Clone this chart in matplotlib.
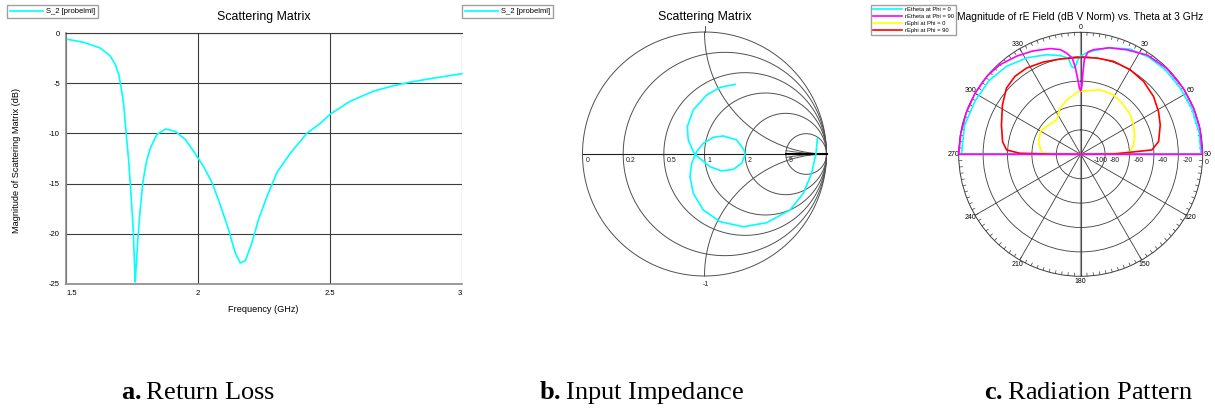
import numpy as np
import matplotlib
matplotlib.use("Agg")
import matplotlib.pyplot as plt

plt.rcParams['font.family'] = ['Liberation Sans', 'DejaVu Sans']
plt.rcParams['mathtext.fontset'] = 'custom'
plt.rcParams['mathtext.rm'] = 'Liberation Serif'
plt.rcParams['mathtext.bf'] = 'Liberation Serif:bold'

# ---- a. return loss (S11 in dB) ----
freq = [1.50, 1.567, 1.63, 1.668, 1.687, 1.70, 1.708, 1.718, 1.728, 1.737, 1.746,
        1.754, 1.759, 1.762, 1.766, 1.772, 1.781, 1.791, 1.804, 1.819, 1.844, 1.878,
        1.914, 1.952, 1.989, 2.021, 2.053, 2.084, 2.116, 2.141, 2.16, 2.179, 2.204,
        2.229, 2.261, 2.299, 2.349, 2.412, 2.463, 2.5, 2.576, 2.664, 2.74, 2.803,
        2.891, 3.0]
s11 = [-0.6, -0.93, -1.5, -2.3, -3.15, -4.15, -5.3, -7.0, -10.0, -12.6, -15.9,
       -19.3, -22.6, -24.8, -23.2, -20.6, -17.6, -14.9, -12.9, -11.5, -10.1, -9.56,
       -9.8, -10.6, -12.0, -13.3, -14.9, -17.1, -19.6, -21.9, -22.9, -22.7, -20.9,
       -18.6, -16.3, -13.9, -12.0, -10.0, -9.0, -8.1, -6.8, -5.8, -5.25, -4.9,
       -4.5, -4.05]
xticks_a = [1.5, 2, 2.5, 3]
xlabels_a = ['1.5', '2', '2.5', '3']
yticks_a = [0, -5, -10, -15, -20, -25]
ylabels_a = ['0', '-5', '-10', '-15', '-20', '-25']

# ---- b. input impedance (reflection coefficient) ----
gam_re = [0.250, 0.127, 0.018, -0.092, -0.141, -0.133, -0.092, -0.064, -0.023, 0.045,
          0.141, 0.236, 0.305, 0.332, 0.324, 0.264, 0.154, 0.072, -0.010, -0.059,
          -0.083, -0.105, -0.119, -0.092, -0.010, 0.127, 0.318, 0.510, 0.701, 0.810,
          0.878, 0.914, 0.925]
gam_im = [0.571, 0.546, 0.484, 0.361, 0.224, 0.115, 0.019, -0.016, -0.049, -0.104,
          -0.139, -0.126, -0.076, -0.008, 0.033, 0.115, 0.148, 0.137, 0.087, 0.027,
          -0.022, -0.076, -0.186, -0.322, -0.459, -0.555, -0.596, -0.563, -0.459, -0.322,
          -0.158, 0.005, 0.128]
r_circles = [0, 0.2, 0.5, 1, 2, 5]
r_labels = ['0', '0.2', '0.5', '1', '2', '5']

# ---- c. radiation pattern (dB) ----
eth0_theta = [-90, -90, -76, -63, -51, -40, -29, -19, -12, -7.3, -5.9, -3.8, -2, -0.4,
              3, 7, 15, 25, 35, 45, 56, 68, 80, 90, 90]
eth0_db = [-100, -2.2, -1.9, -3.0, -3.6, -5.7, -9.5, -13.7, -17.2, -20.5, -27.6, -29.2,
           -23, -19.7, -17, -14.5, -9.6, -4.8, -2.8, -2.0, -2.0, -1.5, -1.3, -1.4, -100]
eth90_theta = [-90, -90, -80, -70, -60, -50, -42, -33, -25, -16, -11, -8, -5, -3.5, -2,
               -1, 0, 1, 1.5, 2.2, 4, 7, 15, 24, 34, 45, 57, 68, 78, 90, 90]
eth90_db = [-100, 0, -0.3, -0.2, 0, 0, -1.1, -4.0, -6.6, -9.8, -12.6, -16.2, -20.8, -29,
            -40, -46, -48, -44, -34, -22, -16, -13.6, -9.6, -6.3, -2.0, -0.3, 0, 0, 0,
            -0.2, -100]
eph0_theta = [-90, -89.5, -88.5, -84, -72, -59.5, -47, -34, -25, -14.4, -2, 16.7, 28.8,
              40.9, 51.4, 60.9, 70.2, 80, 86.9, 88.6, 90]
eph0_db = [-100, -80, -69.3, -67, -63.7, -62, -64.6, -65.5, -59, -53.9, -48.5, -44.8,
           -44.3, -46.4, -48.1, -50.4, -53.1, -56, -59.4, -65, -100]
eph90_theta = [-90, -89.7, -89, -86.6, -80.8, -69.6, -57.7, -48.3, -40.2, -32.1, -22.1,
               -12.3, 0, 9.5, 19.4, 30.3, 40.8, 51.6, 61.2, 69.7, 80.7, 86.5, 89.5, 90]
eph90_db = [-100, -75, -50, -39.1, -35.1, -30.7, -24.1, -18.5, -16.4, -16.5, -18.4,
            -20.1, -20.5, -20, -19.2, -19.7, -21.1, -23.8, -27.2, -30.5, -35.3, -41.5,
            -73, -100]
rings = [-100, -80, -60, -40, -20, 0]
ring_labels = ['-100', '-80', '-60', '-40', '-20', '0']
pattern_names = ['rEtheta at Phi = 0', 'rEtheta at Phi = 90',
                 'rEphi at Phi = 0', 'rEphi at Phi = 90']

W, H = 1215, 413
fig = plt.figure(figsize=(W / 100, H / 100), dpi=100)


def fx(px):
    return px / W


def fy(py):
    return 1 - py / H


GRID = '#3c3c3c'
SMALL = 5.5

# ================= a =================
ax1 = fig.add_axes([fx(66), fy(284), fx(396), 251 / H])
l1, = ax1.plot(freq, s11, color='#00ffff', lw=1.2, clip_on=False)
ax1.set_xlim(1.5, 3)
ax1.set_ylim(-25, 0)
ax1.set_xticks(xticks_a)
ax1.set_xticklabels(xlabels_a, fontsize=SMALL)
ax1.set_yticks(yticks_a)
ax1.set_yticklabels(ylabels_a, fontsize=SMALL)
xl = ax1.get_xticklabels()
xl[0].set_ha('left')
xl[-1].set_ha('right')
ax1.tick_params(axis='y', length=0, pad=4.3)
ax1.tick_params(axis='x', length=0, pad=4)
ax1.grid(True, color=GRID, lw=0.8)
ax1.spines['right'].set_visible(False)
ax1.spines['top'].set_color(GRID)
ax1.spines['top'].set_linewidth(0.8)
for s in ['left', 'bottom']:
    ax1.spines[s].set_color('#8a8a8a')
    ax1.spines[s].set_linewidth(1.2)
fig.text(fx(264), fy(17), 'Scattering Matrix', ha='center', va='center', fontsize=8.9)
fig.text(fx(17), fy(160), 'Magnitude of Scattering Matrix (dB)', ha='center', va='center',
         rotation=90, fontsize=6.6)
fig.text(fx(263), fy(309), 'Frequency (GHz)', ha='center', va='center', fontsize=6.6)
leg_kw = dict(loc='upper left', fontsize=5.5, frameon=True, fancybox=False,
              edgecolor='#888888', handlelength=4.3, borderpad=0.4, borderaxespad=0,
              handletextpad=0.4)
fig.legend([l1], ['S_2 [probelml]'], bbox_to_anchor=(fx(6.7), fy(5)), **leg_kw)

# ================= b =================
R = 122
cxb, cyb = 704.5, 154
ax2 = fig.add_axes([fx(cxb - 1.1 * R), fy(cyb + 1.1 * R), fx(2.2 * R), 2.2 * R / H])
ax2.set_xlim(-1.1, 1.1)
ax2.set_ylim(-1.1, 1.1)
ax2.set_aspect('equal')
ax2.axis('off')
t = np.linspace(0, 2 * np.pi, 500)
for r in r_circles:
    c0, rad = r / (1 + r), 1 / (1 + r)
    ax2.plot(c0 + rad * np.cos(t), rad * np.sin(t), color='#505050', lw=0.7)
rr = np.concatenate([np.linspace(0, 5, 300), np.geomspace(5, 1e5, 300)])
for x in [1, -1]:
    g = (rr + 1j * x - 1) / (rr + 1j * x + 1)
    ax2.plot(g.real, g.imag, color='#505050', lw=0.7)
rw = np.geomspace(5, 1e5, 200)
for x in [0.5, -0.5]:
    g = (rw + 1j * x - 1) / (rw + 1j * x + 1)
    ax2.plot(g.real, g.imag, color='#606060', lw=0.7)
ax2.plot([-1, 1], [0, 0], color='#202020', lw=0.8)
ax2.plot([0, 0], [1, 1.05], color='#505050', lw=0.7)
ax2.plot([0.667, 1], [0, 0], color='k', lw=1.5)
for r, lab in zip(r_circles, r_labels):
    ax2.annotate(lab, xy=((r - 1) / (r + 1), 0), xytext=(2, -5), textcoords='offset points',
                 ha='left', va='center', fontsize=5, color='#202020')
ax2.text(0.01, -1.07, '-1', ha='center', va='center', fontsize=5, color='#202020')
l2, = ax2.plot(gam_re, gam_im, color='#00ffff', lw=1.2)
fig.text(fx(705), fy(17), 'Scattering Matrix', ha='center', va='center', fontsize=8.9)
fig.legend([l2], ['S_2 [probelml]'], bbox_to_anchor=(fx(462), fy(5)), **leg_kw)

# ================= c =================
cxc, cyc = 1080.7, 154.3
ax3 = fig.add_axes([fx(cxc - R), fy(cyc + R), fx(2 * R), 2 * R / H], projection='polar')
ax3.set_theta_zero_location('N')
ax3.set_theta_direction(-1)
ax3.set_ylim(-100, 0)
ax3.set_rgrids([-80, -60, -40, -20], labels=[])
ax3.set_thetagrids(np.arange(0, 360, 30), labels=[str(a) for a in range(0, 360, 30)],
                   fontsize=5)
ax3.tick_params(axis='x', pad=-3.3, length=0)
ax3.grid(True, color=GRID, lw=0.6)
ax3.spines['polar'].set_color(GRID)
ax3.spines['polar'].set_linewidth(0.7)
for a in [0, np.pi, np.pi / 2, 3 * np.pi / 2]:
    ax3.plot([a, a], [-100, 0], color='#a0a0a0', lw=1.6, zorder=1.5)
ax3.vlines(np.deg2rad(np.arange(0, 360, 3)), -2.8, 0, color=GRID, lw=0.5)
for r, lab in zip(rings, ring_labels):
    dx = 9 if r == -100 else (1.5 if r == 0 else 3)
    dy = -6 if r == 0 else -4.5
    ax3.annotate(lab, xy=(np.pi / 2, r), xytext=(dx, dy), textcoords='offset points',
                 ha='left', va='center', fontsize=5, color='#202020')
c1, = ax3.plot(np.deg2rad(eth0_theta), eth0_db, color='#00ffff', lw=1.2, clip_on=False, zorder=3)
c3, = ax3.plot(np.deg2rad(eph0_theta), eph0_db, color='#ffff00', lw=1.2, clip_on=False, zorder=3)
c4, = ax3.plot(np.deg2rad(eph90_theta), eph90_db, color='#ff0000', lw=1.2, clip_on=False, zorder=3)
c2, = ax3.plot(np.deg2rad(eth90_theta), eth90_db, color='#ff00ff', lw=1.2, clip_on=False, zorder=4)
fig.text(fx(1080), fy(17), 'Magnitude of rE Field (dB V Norm) vs. Theta at 3 GHz',
         ha='center', va='center', fontsize=7.4)
fig.legend([c1, c2, c3, c4], pattern_names, loc='upper left',
           bbox_to_anchor=(fx(870.7), fy(5)), fontsize=4.2, frameon=True, fancybox=False,
           edgecolor='#888888', handlelength=5, borderpad=0.4, borderaxespad=0,
           handletextpad=0.5, labelspacing=0.3)

# ================= captions =================
cap_kw = dict(ha='center', va='center', fontsize=19, family='Liberation Serif')
fig.text(fx(198.5), fy(393), r'$\mathbf{a.}$Return Loss', **cap_kw)
fig.text(fx(641.5), fy(393), r'$\mathbf{b.}$Input Impedance', **cap_kw)
fig.text(fx(1088), fy(393), r'$\mathbf{c.}$Radiation Pattern', **cap_kw)

fig.savefig('out.png', dpi=100)
